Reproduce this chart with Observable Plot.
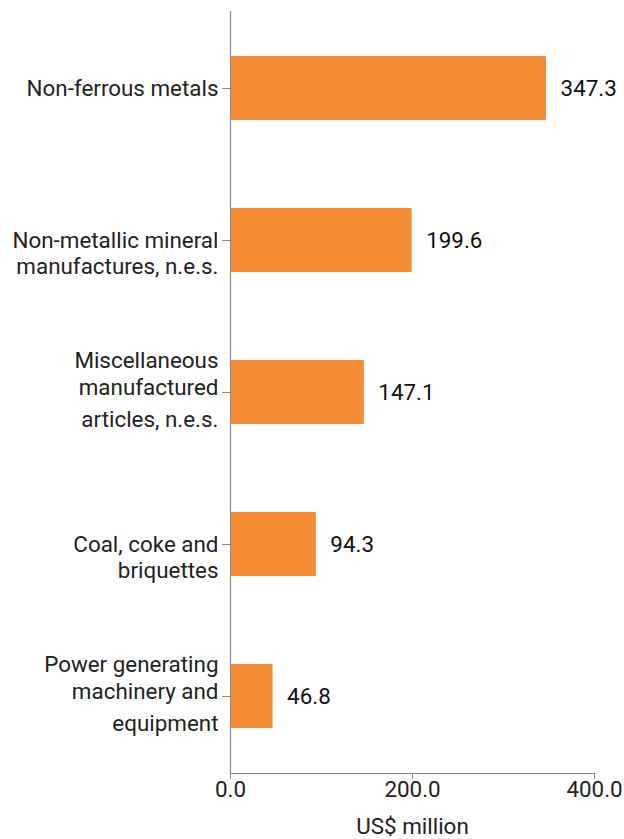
<!DOCTYPE html>
<html>
<head>
<meta charset="utf-8">
<script src="https://cdn.jsdelivr.net/npm/d3@7"></script>
<script src="https://cdn.jsdelivr.net/npm/@observablehq/plot@0.6"></script>
<style>
  html, body { margin: 0; padding: 0; background: #fff; }
  #chart svg { display: block; font-family: Roboto, "Noto Sans", sans-serif; }
</style>
</head>
<body>
<div id="chart"></div>
<script>
// Export categories (top to bottom), their wrapped tick labels and values in US$ million
const categories = [
  "Non-ferrous metals",
  "Non-metallic mineral manufactures, n.e.s.",
  "Miscellaneous manufactured articles, n.e.s.",
  "Coal, coke and briquettes",
  "Power generating machinery and equipment"
];
const labelLines = [
  ["Non-ferrous metals"],
  ["Non-metallic mineral", "manufactures, n.e.s."],
  ["Miscellaneous", "manufactured", "articles, n.e.s."],
  ["Coal, coke and", "briquettes"],
  ["Power generating", "machinery and", "equipment"]
];
const values = [347.3, 199.6, 147.1, 94.3, 46.8];
const xTicks = [0, 200, 400];
const xLabel = "US$ million";

const rows = categories.map((c, i) => ({category: c, value: values[i]}));

// One row per label line, remembering its index and the label's line count
const lineRows = labelLines.flatMap((lines, i) =>
  lines.map((text, j) => ({category: categories[i], text, j, n: lines.length}))
);

// Vertical offset of each wrapped line relative to the tick, by line count
const lineOffsets = {1: [0], 2: [0, 26], 3: [-32, -5, 27]};

const fontSize = 22.4;
const textColor = "#222";
const axisColor = "#8a8a8a";
const barColor = "#f68d35";

const labelMarks = Object.entries(lineOffsets).flatMap(([n, offs]) =>
  offs.map((dy, j) =>
    Plot.text(lineRows.filter(d => d.n === +n && d.j === j), {
      x: 0,
      y: "category",
      text: "text",
      dx: -12,
      dy,
      textAnchor: "end",
      fill: textColor,
      fontSize
    })
  )
);

const chart = Plot.plot({
  width: 624,
  height: 839,
  marginLeft: 230,
  marginRight: 30,
  marginTop: 11,
  marginBottom: 66,
  style: {fontFamily: "Roboto, 'Noto Sans', sans-serif", background: "#fff"},
  x: {domain: [0, 400]},
  y: {domain: categories, paddingInner: 0.58, paddingOuter: 0.29},
  marks: [
    Plot.barX(rows, {x: "value", y: "category", fill: barColor}),
    Plot.ruleX([0], {stroke: axisColor, strokeWidth: 1.2}),
    Plot.frame({anchor: "bottom", stroke: axisColor, strokeWidth: 1.2}),
    Plot.axisY({tickSize: 8, tickFormat: () => "", stroke: axisColor, label: null}),
    Plot.axisX({
      ticks: xTicks,
      tickSize: 6,
      tickPadding: 2,
      tickFormat: d3.format(".1f"),
      stroke: axisColor,
      fill: textColor,
      fontSize,
      label: null
    }),
    Plot.text([xLabel], {
      frameAnchor: "bottom",
      dy: 53,
      lineAnchor: "middle",
      fill: textColor,
      fontSize
    }),
    ...labelMarks,
    Plot.text(rows, {
      x: "value",
      y: "category",
      text: d => d3.format(".1f")(d.value),
      dx: 14,
      textAnchor: "start",
      fill: "#111",
      fontSize
    })
  ]
});

document.getElementById("chart").append(chart);
</script>
</body>
</html>
